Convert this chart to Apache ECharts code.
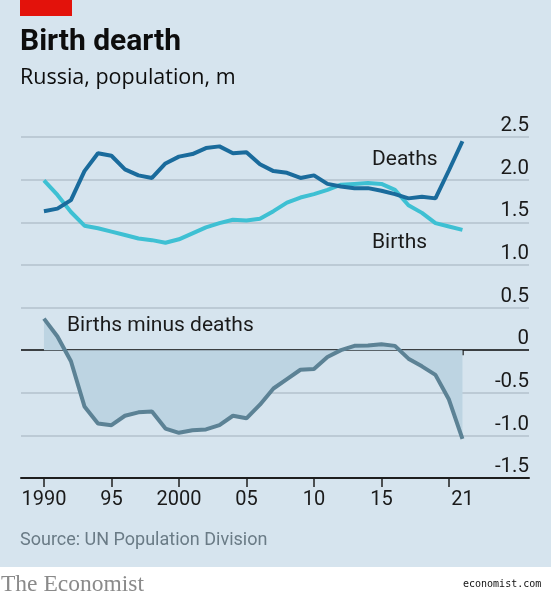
<!DOCTYPE html>
<html>
<head>
<meta charset="utf-8">
<script src="https://cdn.jsdelivr.net/npm/echarts@6/dist/echarts.min.js"></script>
<style>
html,body{margin:0;padding:0;background:#ffffff;}
#chart{width:551px;height:600px;}
</style>
</head>
<body>
<div id="chart"></div>
<script>
// ---- Data ----
const years = [1990,1991,1992,1993,1994,1995,1996,1997,1998,1999,2000,2001,2002,2003,2004,2005,2006,2007,2008,2009,2010,2011,2012,2013,2014,2015,2016,2017,2018,2019,2020,2021];
const deaths = [1.63,1.66,1.76,2.10,2.31,2.28,2.12,2.05,2.02,2.19,2.27,2.30,2.37,2.39,2.31,2.32,2.18,2.10,2.08,2.02,2.05,1.95,1.92,1.90,1.90,1.87,1.83,1.78,1.80,1.78,2.11,2.45];
const births = [1.99,1.82,1.62,1.46,1.43,1.39,1.35,1.31,1.29,1.26,1.30,1.37,1.44,1.49,1.53,1.52,1.54,1.63,1.73,1.79,1.83,1.88,1.94,1.95,1.96,1.95,1.88,1.70,1.61,1.49,1.45,1.41];
const birthsMinusDeaths = [0.37,0.16,-0.13,-0.66,-0.86,-0.88,-0.77,-0.73,-0.72,-0.92,-0.97,-0.94,-0.93,-0.88,-0.77,-0.80,-0.64,-0.45,-0.34,-0.23,-0.22,-0.08,0.00,0.05,0.055,0.07,0.05,-0.10,-0.19,-0.29,-0.58,-1.04];
const xTickValues = [1990,1995,2000,2005,2010,2015,2020];
const xLabelValues = [1990,1995,2000,2005,2010,2015,2021];
const xTickLabels = ['1990','95','2000','05','10','15','21'];
const yTickLabels = ['-1.5','-1.0','-0.5','0','0.5','1.0','1.5','2.0','2.5'];

const pair = (arr) => years.map((y, i) => [y, arr[i]]);

const BG = '#d6e4ee';
const FONT = 'Roboto';

const chart = echarts.init(document.getElementById('chart'), null, {renderer: 'canvas'});

const option = {
  backgroundColor: '#ffffff',
  animation: false,
  grid: {left: 21, right: 22, top: 137, bottom: 122, containLabel: false},
  xAxis: [{
    type: 'value',
    min: 1988.3,
    max: 2025.93,
    axisLine: {show: true, onZero: false, lineStyle: {color: '#1e1e1e', width: 2}},
    axisTick: {show: true, customValues: xTickValues, length: 9, lineStyle: {color: '#1e1e1e', width: 1.5}},
    axisLabel: {
      show: true, customValues: xLabelValues, margin: 12,
      fontFamily: FONT, fontSize: 20, color: '#1a1a1a',
      formatter: (v) => xTickLabels[xLabelValues.indexOf(Math.round(v))] || ''
    },
    splitLine: {show: false}
  }, {
    type: 'value',
    position: 'bottom',
    min: 1988.3,
    max: 2025.93,
    axisLine: {show: false},
    axisTick: {show: true, customValues: [2021], length: 5, lineStyle: {color: '#1e1e1e', width: 1.5}},
    axisLabel: {show: false},
    splitLine: {show: false}
  }],
  yAxis: {
    type: 'value',
    position: 'right',
    min: -1.5,
    max: 2.5,
    interval: 0.5,
    axisLine: {show: false},
    axisTick: {show: false},
    splitLine: {show: true, lineStyle: {color: '#b3c2cc', width: 1.5}},
    axisLabel: {
      inside: true, margin: 0,
      fontFamily: FONT, fontSize: 20.5, color: '#1a1a1a',
      verticalAlign: 'bottom', lineHeight: 20, padding: [0, 0, 1, 0],
      formatter: (v) => yTickLabels[Math.round((v + 1.5) / 0.5)]
    }
  },
  graphic: [
    {type: 'rect', z: -10, silent: true, shape: {x: 0, y: 0, width: 551, height: 567}, style: {fill: BG}},
    {type: 'rect', z: 10, shape: {x: 20, y: 0, width: 52, height: 16}, style: {fill: '#e3120b'}},
    {type: 'text', z: 10, x: 20, y: 42, style: {text: 'Birth dearth', font: 'bold 30px ' + FONT, fill: '#0d0d0d', verticalAlign: 'middle'}},
    {type: 'text', z: 10, x: 20, y: 78, style: {text: 'Russia, population, m', font: '21.5px "Open Sans"', fill: '#0d0d0d', verticalAlign: 'middle'}},
    {type: 'text', z: 10, x: 372, y: 160, style: {text: 'Deaths', font: '21px ' + FONT, fill: '#1a1a1a', verticalAlign: 'middle'}},
    {type: 'text', z: 10, x: 372, y: 243, style: {text: 'Births', font: '21px ' + FONT, fill: '#1a1a1a', verticalAlign: 'middle'}},
    {type: 'text', z: 10, x: 67, y: 326, style: {text: 'Births minus deaths', font: '21px ' + FONT, fill: '#1a1a1a', verticalAlign: 'middle'}},
    {type: 'text', z: 10, x: 20, y: 540, style: {text: 'Source: UN Population Division', font: '18px ' + FONT, fill: '#6a7b86', verticalAlign: 'middle'}},
    {type: 'text', z: 10, x: 1, y: 585, style: {text: 'The Economist', font: '23.5px "Liberation Serif"', fill: '#8a8a8a', verticalAlign: 'middle'}},
    {type: 'text', z: 10, x: 463, y: 584, style: {text: 'economist.com', font: '10px "DejaVu Sans Mono"', fill: '#111111', verticalAlign: 'middle'}}
  ],
  series: [
    {
      name: 'Births minus deaths', type: 'line', data: pair(birthsMinusDeaths),
      showSymbol: false, smooth: false,
      lineStyle: {color: '#5c8295', width: 4},
      areaStyle: {color: '#bdd4e2', opacity: 1},
      z: 2,
      markLine: {
        silent: true, symbol: 'none', label: {show: false},
        lineStyle: {color: '#111111', width: 1.5, type: 'solid'},
        data: [{yAxis: 0}], z: 1
      }
    },
    {
      name: 'Births', type: 'line', data: pair(births),
      showSymbol: false, lineStyle: {color: '#3ec0d3', width: 4}, z: 3
    },
    {
      name: 'Deaths', type: 'line', data: pair(deaths),
      showSymbol: false, lineStyle: {color: '#1a6b9c', width: 4}, z: 4
    }
  ]
};
chart.setOption(option);
</script>
</body>
</html>
